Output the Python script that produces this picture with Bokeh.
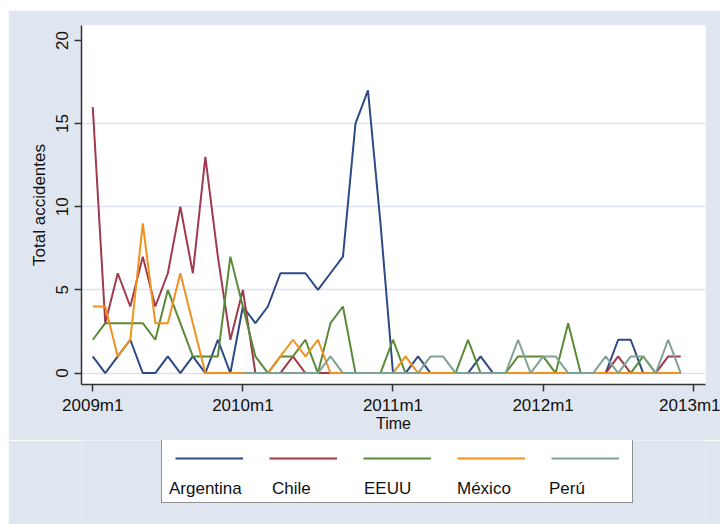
import numpy as np
from bokeh.plotting import figure
from bokeh.layouts import column
from bokeh.models import FixedTicker, Legend, LegendItem, Range1d
from bokeh.embed import file_html
from bokeh.resources import INLINE

# ---- data: monthly totals 2009m1 .. 2012m12 (Stata %tm codes) ----
months = list(range(588, 636))
tick_months = [588, 600, 612, 624, 636]
tick_labels = ["2009m1", "2010m1", "2011m1", "2012m1", "2013m1"]
y_ticks = [0, 5, 10, 15, 20]
grid_ticks = [0, 5, 10, 15]

argentina = [1, 0, 1, 2, 0, 0, 1, 0, 1, 0, 2, 0,
             4, 3, 4, 6, 6, 6, 5, 6, 7, 15, 17, 9,
             0, 0, 1, 0, 0, 0, 0, 1, 0, 0, 0, 0,
             0, 0, 0, 0, 0, 0, 2, 2, 0, 0, 0, 0]
chile = [16, 3, 6, 4, 7, 4, 6, 10, 6, 13, 7, 2,
         5, 0, 0, 0, 1, 0, 0, 0, 0, 0, 0, 0,
         0, 0, 0, 0, 0, 0, 0, 0, 0, 0, 0, 0,
         0, 0, 0, 0, 0, 0, 1, 0, 0, 0, 1, 1]
eeuu = [2, 3, 3, 3, 3, 2, 5, 3, 1, 1, 1, 7,
        4, 1, 0, 1, 1, 2, 0, 3, 4, 0, 0, 0,
        2, 0, 0, 0, 0, 0, 2, 0, 0, 0, 1, 1,
        1, 0, 3, 0, 0, 0, 0, 0, 1, 0, 0, 0]
mexico = [4, 4, 1, 2, 9, 3, 3, 6, 3, 0, 0, 0,
          0, 0, 0, 1, 2, 1, 2, 0, 0, 0, 0, 0,
          0, 1, 0, 0, 0, 0, 0, 0, 0, 0, 0, 0,
          0, 0, 0, 0, 0, 0, 0, 0, 0, 0, 0, 0]
peru = [None, None, None, None, None, None, None, None, None, None, None, None,
        0, 0, 0, 0, 0, 0, 0, 1, 0, 0, 0, 0,
        0, 0, 0, 1, 1, 0, 0, 0, 0, 0, 2, 0,
        1, 1, 0, 0, 0, 1, 0, 1, 1, 0, 2, 0]

names = ["Argentina", "Chile", "EEUU", "México", "Perú"]
series = [argentina, chile, eeuu, mexico, peru]
colors = ["#2C4A86", "#A03A4C", "#5A8A38", "#F0921C", "#80A294"]

FONT = "Liberation Sans"
BG = "#E0E6F0"
TXT = "#111111"
BORDER_L, BORDER_R = 73, 15

# ---------------- main chart ----------------
p = figure(width=712, height=430, output_backend="svg", toolbar_location=None,
           x_range=Range1d(587.1, 636.98), y_range=Range1d(-0.69, 20.9),
           min_border_left=BORDER_L, min_border_right=BORDER_R, min_border_top=15,
           min_border_bottom=56)
p.background_fill_color = "white"
p.border_fill_color = BG
p.outline_line_color = None

for name, vals, col in zip(names, series, colors):
    p.line(months, np.array(vals, dtype=float), line_color=col, line_width=2)

xa = p.xaxis[0]
xa.ticker = FixedTicker(ticks=tick_months)
xa.major_label_overrides = {m: t for m, t in zip(tick_months, tick_labels)}
ya = p.yaxis[0]
ya.ticker = FixedTicker(ticks=y_ticks)
ya.major_label_orientation = "vertical"
for ax in (xa, ya):
    ax.axis_line_color = "#333333"
    ax.axis_line_width = 1.5
    ax.major_tick_line_color = "#333333"
    ax.major_tick_line_width = 1.5
    ax.major_tick_out = 7
    ax.major_tick_in = 0
    ax.minor_tick_line_color = None
    ax.major_label_text_font = FONT
    ax.major_label_text_font_size = "17px"
    ax.major_label_text_color = TXT
    ax.axis_label_text_font = FONT
    ax.axis_label_text_font_style = "normal"
    ax.axis_label_text_color = TXT
xa.axis_label = "Time"
xa.axis_label_text_font_size = "16px"
xa.major_label_standoff = 4
xa.axis_label_standoff = -3
ya.axis_label = "Total accidentes"
ya.axis_label_text_font_size = "17px"
ya.major_label_standoff = 6
ya.axis_label_standoff = 5

p.xgrid.grid_line_color = None
p.ygrid.ticker = FixedTicker(ticks=grid_ticks)
p.ygrid.grid_line_color = "#DCE2EE"
p.ygrid.grid_line_width = 1.5

# ---------------- legend strip ----------------
leg_fig = figure(width=712, height=84, output_backend="svg", toolbar_location=None,
                 x_axis_location=None, y_axis_location=None,
                 x_range=Range1d(0, 1), y_range=Range1d(0, 1),
                 min_border_left=BORDER_L, min_border_right=BORDER_R,
                 min_border_top=0, min_border_bottom=0)
leg_fig.extra_y_ranges = {"hidden": Range1d(100, 101)}
leg_fig.background_fill_color = BG
leg_fig.border_fill_color = BG
leg_fig.outline_line_color = None
leg_fig.grid.visible = False

# key renderers carry the real series, on a range that keeps them out of view
keys = [leg_fig.line(months, np.array(vals, dtype=float), line_color=col,
                     line_width=2, y_range_name="hidden")
        for vals, col in zip(series, colors)]

# box with the key row (labels go in a second row below)
leg = Legend(items=[LegendItem(label=" ", renderers=[r]) for r in keys],
             orientation="horizontal", location=(80, 21),
             glyph_width=68, glyph_height=10, label_height=10, label_width=0,
             label_text_font_size="1px", label_standoff=0, spacing=26,
             padding=13, margin=0,
             title=" ", title_location="below", title_standoff=2,
             title_text_font_size="21px",
             border_line_color="#222222", border_line_width=1.5,
             background_fill_color="white", background_fill_alpha=1.0)
leg_fig.add_layout(leg)

# label row: one text-only legend per series, placed under its key
label_x = [88, 191, 283, 376, 468]
for name, r, lx in zip(names, keys, label_x):
    lab = Legend(items=[LegendItem(label=name, renderers=[r])],
                 location=(lx, 25), glyph_width=0, glyph_height=1,
                 label_height=20, label_width=0, label_standoff=0,
                 padding=0, margin=0, spacing=0,
                 label_text_font=FONT, label_text_font_size="17px",
                 label_text_color=TXT,
                 border_line_color=None, background_fill_alpha=0.0)
    leg_fig.add_layout(lab)

layout = column(p, leg_fig, spacing=0, margin=(10, 0, 0, 8))
open("out.html", "w").write(file_html(layout, INLINE))
